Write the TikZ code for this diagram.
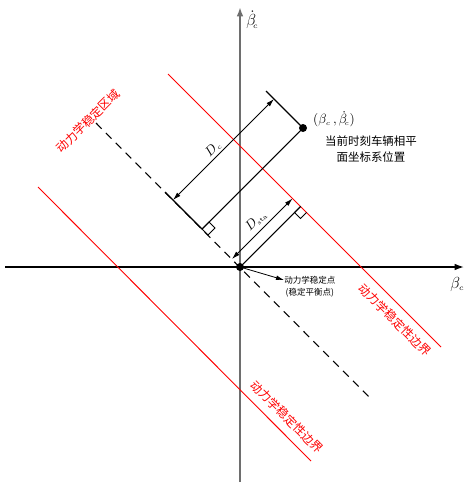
\documentclass[tikz,border=0pt]{standalone}
\usepackage{fontspec}
\newfontfamily\cjk{Noto Sans CJK SC}
\usetikzlibrary{arrows.meta, calc}
\definecolor{colAxis}{RGB}{110,110,110}
\tikzset{
  axis/.style  = {-{Latex[length=7pt,width=5pt]}},
  bound/.style = {red, line width=0.7pt},
  guide/.style = {line width=0.8pt, dash pattern=on 6pt off 4.5pt},
  dim/.style   = {{Latex[length=6pt,width=3.5pt]}-{Latex[length=6pt,width=3.5pt]}, line width=0.6pt},
  ext/.style   = {line width=0.8pt},
  rmark/.style = {line width=0.6pt},
  arr/.style   = {-{Latex[length=6pt,width=3.5pt]}, line width=0.6pt},
  dot/.style   = {circle, fill=black, inner sep=0pt, minimum size=6pt},
  redtxt/.style= {red, inner sep=0pt, font=\cjk\fontsize{9}{10}\selectfont},
  blktxt/.style= {inner sep=0pt, font=\cjk\fontsize{8.6}{12}\selectfont},
  smltxt/.style= {inner sep=0pt, font=\cjk\fontsize{6.4}{8}\selectfont},
  mathtxt/.style={inner sep=0pt, font=\fontsize{10}{10}\selectfont},
}

\begin{document}
\begin{tikzpicture}[x=0.75pt, y=-0.75pt]
\useasboundingbox (0,0) rectangle (465,485);

%% -- coordinates -------------------------------------------------------------
\coordinate (xa) at (5,267);    \coordinate (xb) at (464,267);
\coordinate (ya) at (240,482);  \coordinate (yb) at (240,7);
\coordinate (ga) at (96,123);   \coordinate (gb) at (372,400);
\coordinate (ua) at (168,74);   \coordinate (ub) at (441,347);
\coordinate (la) at (38,187);   \coordinate (lb) at (311,461);
\coordinate (fc) at (202,229);  % foot of the current point on the guide line
\coordinate (fs) at (300.5,206.5); % foot of the origin on the boundary

%% -- axes --------------------------------------------------------------------
\draw[axis, line width=1.1pt] (xa) -- (xb);
\draw[axis, colAxis, line width=1.5pt] (ya) -- (yb);
\node[anchor=west, inner sep=0pt, font=\fontsize{12}{12}\selectfont] (ylab) at (246,20) {$\dot{\beta}_{\!\scriptscriptstyle c}$};
\node[anchor=west, inner sep=0pt, font=\fontsize{12}{12}\selectfont] (xlab) at (450,284) {$\beta_{\scriptscriptstyle c}$};

%% -- guide line and boundaries ----------------------------------------------
\draw[guide] (ga) -- (gb);
\draw[bound] (ua) -- (ub);
\draw[bound] (la) -- (lb);

%% -- points ------------------------------------------------------------------
\node[dot] (o) at (240,267) {};
\node[dot] (p) at (303,128) {};

%% -- D_c dimension -----------------------------------------------------------
\draw[ext] (p.center) -- (fc);
\draw[ext] (p.center) -- (266,91);
\draw[ext] (fc) -- (165,192);
\draw[dim] (173,200) -- (274,99);
\draw[rmark] (fc) -- ++(7,-7) -- ++(6,6) -- ++(-7,7) -- cycle;
\node[mathtxt, rotate=45] (dc) at (213,149) {$D_{\scriptscriptstyle c}$};

%% -- D_sta dimension ---------------------------------------------------------
\draw[ext] (o.center) -- (fs);
\draw[dim] (232,259) -- (292.5,198.5);
\draw[rmark] (fs) -- ++(-6,6) -- ++(6,6) -- ++(6,-6);
\node[mathtxt, rotate=45] (dsta) at (256,221) {$D_{\scriptscriptstyle\mathrm{sta}}$};

%% -- texts -------------------------------------------------------------------
\node[mathtxt] (plab) at (334,119) {$(\beta_{\scriptscriptstyle c}\,,\dot{\beta}_{\!\scriptscriptstyle c})$};
\node[blktxt, align=center] (pos) at (371,149) {当前时刻车辆相平\\面坐标系位置};

\node[smltxt, anchor=west] (st1) at (284,280) {动力学稳定点};
\node[smltxt, anchor=north] (st2) at ($(st1.south)+(0,4)$) {(稳定平衡点)};
\draw[arr] (o.center) -- (st1.west);

\node[redtxt, rotate=45]  (reg) at (88,121)  {动力学稳定区域};
\node[redtxt, rotate=-45] (bu)  at (395,320) {动力学稳定性边界};
\node[redtxt, rotate=-45] (bl)  at (287,417) {动力学稳定性边界};

\end{tikzpicture}
\end{document}
